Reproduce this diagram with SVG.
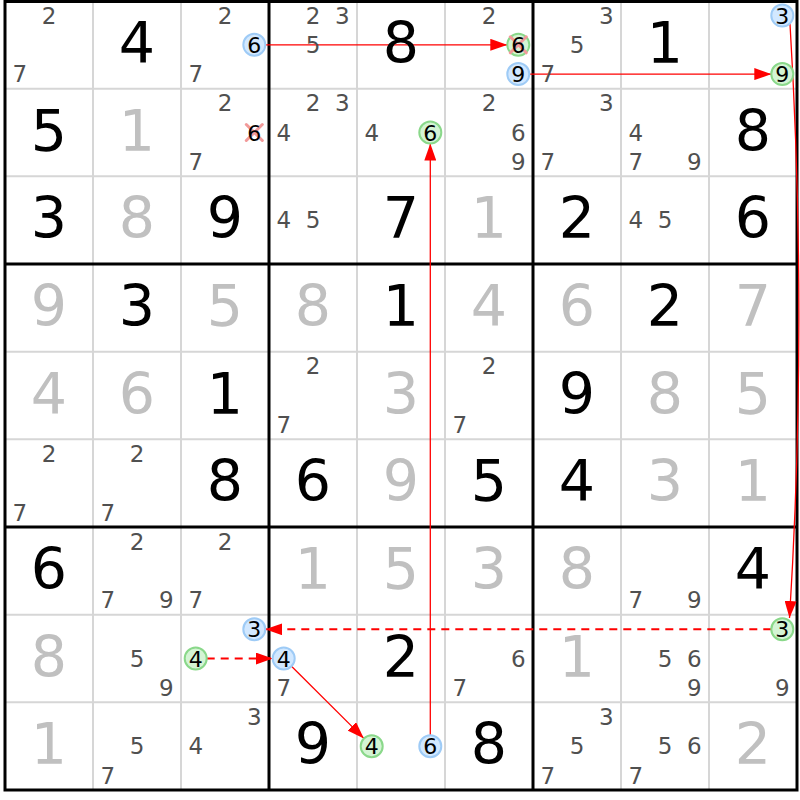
<svg xmlns="http://www.w3.org/2000/svg" width="800" height="800" viewBox="0 0 800 800">
<style>
text{font-family:"DejaVu Sans","Liberation Sans",sans-serif;text-anchor:middle}
.big{font-size:57px}
.gv{fill:#c0c0c0}
.sv{fill:#000}
.c{font-size:23px;fill:#505050;transform:translateY(1.2px)}
.k{font-size:22px;fill:#000;transform:translateY(0.5px)}
.cb{fill:#d2e8ff;stroke:#9ecbf6;stroke-width:2}
.cg{fill:#d4f4d4;stroke:#8ad88a;stroke-width:2}
.x{stroke:#f29a9a;stroke-width:3;stroke-linecap:round}
.thin{stroke:#d6d6d6;stroke-width:2}
.thick{stroke:#000;stroke-width:3}
.a{stroke:#ff0000;stroke-width:1.3;fill:none}
.d{stroke:#ff0000;stroke-width:2;fill:none;stroke-dasharray:8 6}
</style>
<defs>
<marker id="ah" markerUnits="userSpaceOnUse" markerWidth="17" markerHeight="12" refX="17" refY="6" orient="auto"><path d="M0,0 L17,6 L0,12 z" fill="#ff0000"/></marker>
</defs>
<rect x="0" y="0" width="800" height="800" fill="#fff"/>
<g id="grid">
<path class="thin" d="M93 1V790M181 1V790M357 1V790M445 1V790M621 1V790M709 1V790M5 88.67H797M5 176.33H797M5 351.67H797M5 439.33H797M5 614.67H797M5 702.33H797"/>
<path class="thick" d="M269 1V790M533 1V790M5 264H797M5 527H797"/>
<rect x="5" y="1.5" width="792" height="788.5" fill="none" stroke="#000" stroke-width="3"/>
</g>
<g id="connectors">
<line class="a" x1="265.3" y1="44.8" x2="507.3" y2="44.8" marker-end="url(#ah)"/>
<line class="a" x1="529.3" y1="74.1" x2="771.3" y2="74.1" marker-end="url(#ah)"/>
<path class="a" d="M790 24 Q808 322 789.5 618" marker-end="url(#ah)"/>
<line class="d" x1="771.3" y1="629.3" x2="265.3" y2="629.3" marker-end="url(#ah)"/>
<line class="d" x1="206.7" y1="658.5" x2="272.7" y2="658.5" marker-end="url(#ah)"/>
<line class="a" x1="291.5" y1="666.3" x2="363.9" y2="738.4" marker-end="url(#ah)"/>
<line class="a" x1="430.3" y1="735.2" x2="430.3" y2="143.5" marker-end="url(#ah)"/>
</g>
<g id="r1c1"><text class="c" x="49" y="22.6">2</text><text class="c" x="19.7" y="81.1">7</text></g>
<g id="r1c2"><text class="big sv" x="137" y="63">4</text></g>
<g id="r1c3"><text class="c" x="225" y="22.6">2</text><text class="c" x="195.7" y="81.1">7</text><circle class="cb" cx="254.3" cy="44.8" r="11"/><text class="k" x="254.3" y="52.3">6</text></g>
<g id="r1c4"><text class="c" x="313" y="22.6">2</text><text class="c" x="342.3" y="22.6">3</text><text class="c" x="313" y="51.8">5</text></g>
<g id="r1c5"><text class="big sv" x="401" y="63">8</text></g>
<g id="r1c6"><text class="c" x="489" y="22.6">2</text><circle class="cg" cx="518.3" cy="44.8" r="11"/><path class="x" d="M510.3 36.8L526.3 52.8M526.3 36.8L510.3 52.8"/><text class="k" x="518.3" y="52.3">6</text><circle class="cb" cx="518.3" cy="74.1" r="11"/><text class="k" x="518.3" y="81.6">9</text></g>
<g id="r1c7"><text class="c" x="606.3" y="22.6">3</text><text class="c" x="577" y="51.8">5</text><text class="c" x="547.7" y="81.1">7</text></g>
<g id="r1c8"><text class="big sv" x="665" y="63">1</text></g>
<g id="r1c9"><circle class="cb" cx="782.3" cy="15.6" r="11"/><text class="k" x="782.3" y="23.1">3</text><circle class="cg" cx="782.3" cy="74.1" r="11"/><text class="k" x="782.3" y="81.6">9</text></g>
<g id="r2c1"><text class="big sv" x="49" y="150.7">5</text></g>
<g id="r2c2"><text class="big gv" x="137" y="150.7">1</text></g>
<g id="r2c3"><text class="c" x="225" y="110.3">2</text><text class="c" x="195.7" y="168.8">7</text><path class="x" d="M246.3 124.5L262.3 140.5M262.3 124.5L246.3 140.5"/><text class="k" x="254.3" y="140">6</text></g>
<g id="r2c4"><text class="c" x="313" y="110.3">2</text><text class="c" x="342.3" y="110.3">3</text><text class="c" x="283.7" y="139.5">4</text></g>
<g id="r2c5"><text class="c" x="371.7" y="139.5">4</text><circle class="cg" cx="430.3" cy="132.5" r="11"/><text class="k" x="430.3" y="140">6</text></g>
<g id="r2c6"><text class="c" x="489" y="110.3">2</text><text class="c" x="518.3" y="139.5">6</text><text class="c" x="518.3" y="168.8">9</text></g>
<g id="r2c7"><text class="c" x="606.3" y="110.3">3</text><text class="c" x="547.7" y="168.8">7</text></g>
<g id="r2c8"><text class="c" x="635.7" y="139.5">4</text><text class="c" x="635.7" y="168.8">7</text><text class="c" x="694.3" y="168.8">9</text></g>
<g id="r2c9"><text class="big sv" x="753" y="150.7">8</text></g>
<g id="r3c1"><text class="big sv" x="49" y="238.3">3</text></g>
<g id="r3c2"><text class="big gv" x="137" y="238.3">8</text></g>
<g id="r3c3"><text class="big sv" x="225" y="238.3">9</text></g>
<g id="r3c4"><text class="c" x="283.7" y="227.2">4</text><text class="c" x="313" y="227.2">5</text></g>
<g id="r3c5"><text class="big sv" x="401" y="238.3">7</text></g>
<g id="r3c6"><text class="big gv" x="489" y="238.3">1</text></g>
<g id="r3c7"><text class="big sv" x="577" y="238.3">2</text></g>
<g id="r3c8"><text class="c" x="635.7" y="227.2">4</text><text class="c" x="665" y="227.2">5</text></g>
<g id="r3c9"><text class="big sv" x="753" y="238.3">6</text></g>
<g id="r4c1"><text class="big gv" x="49" y="326">9</text></g>
<g id="r4c2"><text class="big sv" x="137" y="326">3</text></g>
<g id="r4c3"><text class="big gv" x="225" y="326">5</text></g>
<g id="r4c4"><text class="big gv" x="313" y="326">8</text></g>
<g id="r4c5"><text class="big sv" x="401" y="326">1</text></g>
<g id="r4c6"><text class="big gv" x="489" y="326">4</text></g>
<g id="r4c7"><text class="big gv" x="577" y="326">6</text></g>
<g id="r4c8"><text class="big sv" x="665" y="326">2</text></g>
<g id="r4c9"><text class="big gv" x="753" y="326">7</text></g>
<g id="r5c1"><text class="big gv" x="49" y="413.7">4</text></g>
<g id="r5c2"><text class="big gv" x="137" y="413.7">6</text></g>
<g id="r5c3"><text class="big sv" x="225" y="413.7">1</text></g>
<g id="r5c4"><text class="c" x="313" y="373.3">2</text><text class="c" x="283.7" y="431.7">7</text></g>
<g id="r5c5"><text class="big gv" x="401" y="413.7">3</text></g>
<g id="r5c6"><text class="c" x="489" y="373.3">2</text><text class="c" x="459.7" y="431.7">7</text></g>
<g id="r5c7"><text class="big sv" x="577" y="413.7">9</text></g>
<g id="r5c8"><text class="big gv" x="665" y="413.7">8</text></g>
<g id="r5c9"><text class="big gv" x="753" y="413.7">5</text></g>
<g id="r6c1"><text class="c" x="49" y="460.9">2</text><text class="c" x="19.7" y="519.4">7</text></g>
<g id="r6c2"><text class="c" x="137" y="460.9">2</text><text class="c" x="107.7" y="519.4">7</text></g>
<g id="r6c3"><text class="big sv" x="225" y="501.3">8</text></g>
<g id="r6c4"><text class="big sv" x="313" y="501.3">6</text></g>
<g id="r6c5"><text class="big gv" x="401" y="501.3">9</text></g>
<g id="r6c6"><text class="big sv" x="489" y="501.3">5</text></g>
<g id="r6c7"><text class="big sv" x="577" y="501.3">4</text></g>
<g id="r6c8"><text class="big gv" x="665" y="501.3">3</text></g>
<g id="r6c9"><text class="big gv" x="753" y="501.3">1</text></g>
<g id="r7c1"><text class="big sv" x="49" y="589">6</text></g>
<g id="r7c2"><text class="c" x="137" y="548.6">2</text><text class="c" x="107.7" y="607.1">7</text><text class="c" x="166.3" y="607.1">9</text></g>
<g id="r7c3"><text class="c" x="225" y="548.6">2</text><text class="c" x="195.7" y="607.1">7</text></g>
<g id="r7c4"><text class="big gv" x="313" y="589">1</text></g>
<g id="r7c5"><text class="big gv" x="401" y="589">5</text></g>
<g id="r7c6"><text class="big gv" x="489" y="589">3</text></g>
<g id="r7c7"><text class="big gv" x="577" y="589">8</text></g>
<g id="r7c8"><text class="c" x="635.7" y="607.1">7</text><text class="c" x="694.3" y="607.1">9</text></g>
<g id="r7c9"><text class="big sv" x="753" y="589">4</text></g>
<g id="r8c1"><text class="big gv" x="49" y="676.7">8</text></g>
<g id="r8c2"><text class="c" x="137" y="665.5">5</text><text class="c" x="166.3" y="694.7">9</text></g>
<g id="r8c3"><circle class="cb" cx="254.3" cy="629.3" r="11"/><text class="k" x="254.3" y="636.8">3</text><circle class="cg" cx="195.7" cy="658.5" r="11"/><text class="k" x="195.7" y="666">4</text></g>
<g id="r8c4"><circle class="cb" cx="283.7" cy="658.5" r="11"/><text class="k" x="283.7" y="666">4</text><text class="c" x="283.7" y="694.7">7</text></g>
<g id="r8c5"><text class="big sv" x="401" y="676.7">2</text></g>
<g id="r8c6"><text class="c" x="518.3" y="665.5">6</text><text class="c" x="459.7" y="694.7">7</text></g>
<g id="r8c7"><text class="big gv" x="577" y="676.7">1</text></g>
<g id="r8c8"><text class="c" x="665" y="665.5">5</text><text class="c" x="694.3" y="665.5">6</text><text class="c" x="694.3" y="694.7">9</text></g>
<g id="r8c9"><circle class="cg" cx="782.3" cy="629.3" r="11"/><text class="k" x="782.3" y="636.8">3</text><text class="c" x="782.3" y="694.7">9</text></g>
<g id="r9c1"><text class="big gv" x="49" y="764.3">1</text></g>
<g id="r9c2"><text class="c" x="137" y="753.2">5</text><text class="c" x="107.7" y="782.4">7</text></g>
<g id="r9c3"><text class="c" x="254.3" y="723.9">3</text><text class="c" x="195.7" y="753.2">4</text></g>
<g id="r9c4"><text class="big sv" x="313" y="764.3">9</text></g>
<g id="r9c5"><circle class="cg" cx="371.7" cy="746.2" r="11"/><text class="k" x="371.7" y="753.7">4</text><circle class="cb" cx="430.3" cy="746.2" r="11"/><text class="k" x="430.3" y="753.7">6</text></g>
<g id="r9c6"><text class="big sv" x="489" y="764.3">8</text></g>
<g id="r9c7"><text class="c" x="606.3" y="723.9">3</text><text class="c" x="577" y="753.2">5</text><text class="c" x="547.7" y="782.4">7</text></g>
<g id="r9c8"><text class="c" x="665" y="753.2">5</text><text class="c" x="694.3" y="753.2">6</text><text class="c" x="635.7" y="782.4">7</text></g>
<g id="r9c9"><text class="big gv" x="753" y="764.3">2</text></g>
</svg>
